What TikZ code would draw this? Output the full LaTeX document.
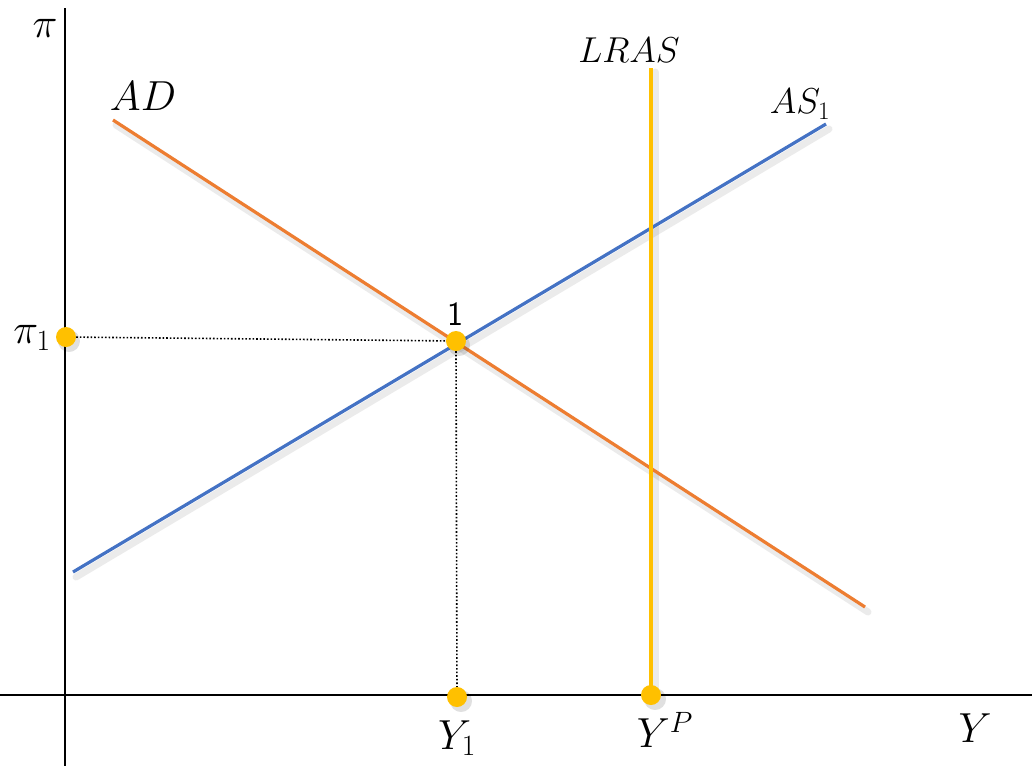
\documentclass[tikz,border=0pt]{standalone}
\usepackage{fix-cm}
\usepackage{fontspec}
\usetikzlibrary{calc}
\definecolor{adorange}{HTML}{ED7D31}
\definecolor{asblue}{HTML}{4472C4}
\definecolor{gold}{HTML}{FFC000}
\tikzset{
  axis/.style={line width=2pt, black},
  curve/.style={line width=3.2pt},
  shadowline/.style={line width=7pt, black, opacity=0.08, line cap=round},
  guide/.style={line width=1.6pt, dotted, black},
  dot/.style={circle, fill=gold, inner sep=0pt, minimum size=20pt},
  dotshadow/.style={circle, fill=black, opacity=0.12, inner sep=0pt, minimum size=22pt},
  lbl/.style={font=\fontsize{42}{48}\selectfont, inner sep=0pt},
  smlbl/.style={font=\fontsize{36}{42}\selectfont, inner sep=0pt},
  numlbl/.style={font=\sffamily\fontsize{34}{40}\selectfont, inner sep=0pt}
}
\begin{document}
\begin{tikzpicture}[x=1pt,y=-1pt]
\useasboundingbox (0,0) rectangle (1032,766);
\fill[white] (0,0) rectangle (1032,766);
% coordinates
\coordinate (ytop) at (65,8);
\coordinate (ybot) at (65,766);
\coordinate (xl) at (0,695);
\coordinate (xr) at (1032,695);
\coordinate (ad1) at (113,120);
\coordinate (ad2) at (865,607);
\coordinate (as1) at (73,572);
\coordinate (as2) at (826,124);
\coordinate (lr1) at (651,68);
\coordinate (lr2) at (651,695);
% shadows
\draw[shadowline] ($(ad1)+(3,5)$) -- ($(ad2)+(3,5)$);
\draw[shadowline] ($(as1)+(3,5)$) -- ($(as2)+(3,5)$);
\draw[shadowline] ($(lr1)+(4,4)$) -- ($(lr2)+(4,4)$);
% axes
\draw[axis] (ytop) -- (ybot);
\draw[axis] (xl) -- (xr);
% curves
\draw[curve, adorange] (ad1) -- (ad2);
\draw[curve, asblue] (as1) -- (as2);
\draw[curve, gold] (lr1) -- (lr2);
% dot shadows
\node[dotshadow] at (69,341) {};
\node[dotshadow] at (459,345) {};
\node[dotshadow] at (461,701) {};
\node[dotshadow] at (655,699) {};
% dots
\node[dot] (p1) at (66,337) {};
\node[dot] (e1) at (456,341) {};
\node[dot] (y1) at (457,697) {};
\node[dot] (yp) at (651,695) {};
% guides
\draw[guide] (p1) -- (e1);
\draw[guide] (e1.south) -- (y1);
% labels
\node[lbl] (lpi) at (45,28) {$\pi$};
\node[lbl] (lad) at (143,96) {$AD$};
\node[smlbl] (llras) at (629,50) {$LRAS$};
\node[smlbl] (las) at (800,104) {$AS_1$};
\node[lbl] (lpi1) at (32,338) {$\pi_1$};
\node[numlbl] (l1) at (455,314) {1};
\node[lbl] (ly1) at (457,738) {$Y_1$};
\node[lbl] (lyp) at (665,730) {$Y^P$};
\node[lbl] (ly) at (975,728) {$Y$};
\end{tikzpicture}
\end{document}
